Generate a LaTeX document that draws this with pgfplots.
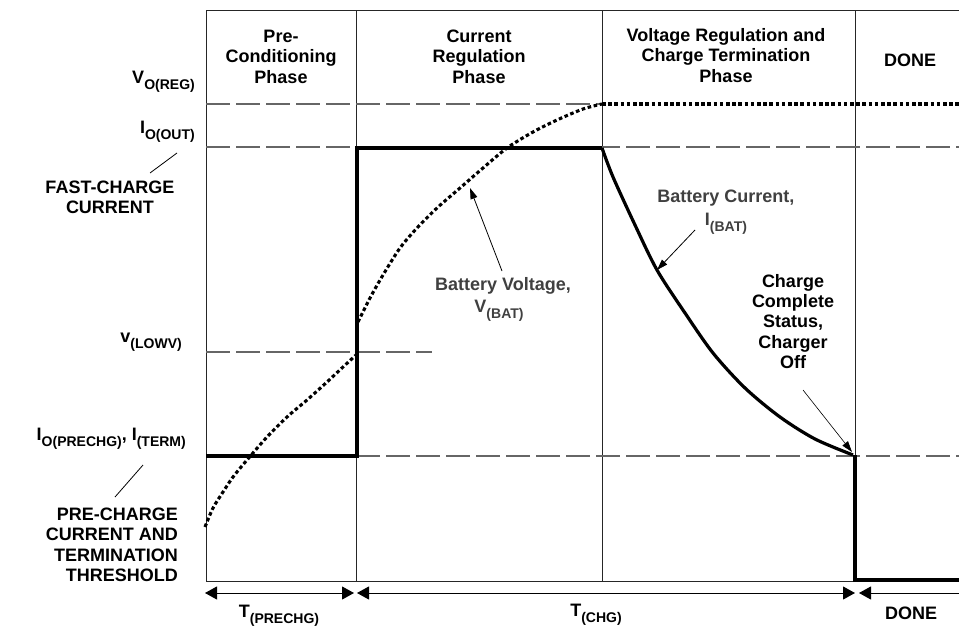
\documentclass[border=0pt]{standalone}
\usepackage{pgfplots}
\pgfplotsset{compat=1.18}
\usepackage{fontspec}
\setmainfont{Liberation Sans}
\usetikzlibrary{arrows.meta}

% subscript as set in the figure: smaller and lowered
\newcommand{\sub}[1]{\raisebox{-6pt}{\fontsize{14}{14}\selectfont #1}}

\begin{document}
\begin{tikzpicture}[
    lbl/.style={font=\fontsize{18}{20}\selectfont\bfseries, inner sep=0pt},
    dim/.style={-{Triangle[length=12pt,width=13pt]}, line width=1pt},
    ddim/.style={{Triangle[length=12pt,width=13pt]}-{Triangle[length=12pt,width=13pt]}, line width=1pt},
    vbat/.style={black, line width=3.1pt, dash pattern=on 3.6pt off 2.6pt},
  ]
  \begin{axis}[
      name=ax,
      width=959pt, height=629pt,
      scale only axis,
      hide axis,
      xmin=0, xmax=959,
      ymin=0, ymax=629,
      y dir=reverse,
      clip=false,
    ]
    % frame and phase borders
    \addplot[black!85, line width=0.9pt] coordinates {(206,581) (206,10) (959,10)};
    \addplot[black!85, line width=0.9pt] coordinates {(206,581) (959,581)};
    \addplot[black!85, line width=0.9pt] coordinates {(356,10) (356,581)};
    \addplot[black!85, line width=0.9pt] coordinates {(602,10) (602,581)};
    \addplot[black!85, line width=0.9pt] coordinates {(855,10) (855,581)};

    % reference levels
    \addplot[black!60, line width=1.1pt, dash pattern=on 24pt off 6pt] coordinates {(206,104) (600,104)};
    \addplot[black!60, line width=1.1pt, dash pattern=on 24pt off 6pt] coordinates {(206,147) (959,147)};
    \addplot[black!60, line width=1.1pt, dash pattern=on 24pt off 6pt] coordinates {(206,352) (432,352)};
    \addplot[black!60, line width=1.1pt, dash pattern=on 24pt off 6pt] coordinates {(206,456) (959,456)};

    % battery current I(BAT)
    \addplot[black, line width=3.2pt, smooth] coordinates {
      (602,148) (613,177) (635,225) (657,270) (685,313) (713,353)
      (745,388) (780,417) (815,439) (853,455)};
    \addplot[black, line width=3.2pt, line join=miter] coordinates {
      (206,456) (357,456) (357,148) (602,148)};
    \addplot[black, line width=3.2pt, line join=miter] coordinates {
      (855,455) (855,580) (959,580)};

    % battery voltage V(BAT)
    \addplot[vbat, smooth] coordinates {
      (205,527) (213,508) (223,492) (233,477) (247,460) (267,437)
      (287,417) (307,400) (327,382) (343,367) (356,355)};
    \addplot[vbat, smooth] coordinates {
      (358,322) (370,298) (383,275) (400,248) (417,228) (437,208)
      (460,188) (483,168) (507,148) (533,132) (557,120) (583,109) (602,104)};
    \addplot[vbat] coordinates {(602,104) (959,104)};

    % phase headers
    \node[lbl, anchor=base] at (axis cs:281,42) {Pre-};
    \node[lbl, anchor=base] at (axis cs:281,62.5) {Conditioning};
    \node[lbl, anchor=base] at (axis cs:281,83) {Phase};
    \node[lbl, anchor=base] at (axis cs:479,42) {Current};
    \node[lbl, anchor=base] at (axis cs:479,62.5) {Regulation};
    \node[lbl, anchor=base] at (axis cs:479,83) {Phase};
    \node[lbl, anchor=base] at (axis cs:726,41) {Voltage Regulation and};
    \node[lbl, anchor=base] at (axis cs:726,61.5) {Charge Termination};
    \node[lbl, anchor=base] at (axis cs:726,82) {Phase};
    \node[lbl, anchor=base] at (axis cs:910,66) {DONE};

    % level labels
    \node[lbl, anchor=base east] at (axis cs:195,83) {V\sub{O(REG)}};
    \node[lbl, anchor=base east] at (axis cs:195,133) {I\sub{O(OUT)}};
    \node[lbl, anchor=base] at (axis cs:110,193) {FAST-CHARGE};
    \node[lbl, anchor=base] at (axis cs:110,213) {CURRENT};
    \draw[line width=0.8pt] (axis cs:150,173) -- (axis cs:177,153);
    \node[lbl, anchor=base east] at (axis cs:182,342) {v\sub{(LOWV)}};
    \node[lbl, anchor=base east] at (axis cs:186,440) {I\sub{O(PRECHG)}, I\sub{(TERM)}};
    \draw[line width=0.8pt] (axis cs:115,497) -- (axis cs:143,465);
    \node[lbl, anchor=base east] at (axis cs:178,520) {PRE-CHARGE};
    \node[lbl, anchor=base east] at (axis cs:178,540.5) {CURRENT AND};
    \node[lbl, anchor=base east] at (axis cs:178,561) {TERMINATION};
    \node[lbl, anchor=base east] at (axis cs:178,581.5) {THRESHOLD};

    % curve annotations
    \node[lbl, anchor=base, text=black!75] at (axis cs:503,290) {Battery Voltage,};
    \node[lbl, anchor=base, text=black!75] at (axis cs:499,312) {V\sub{(BAT)}};
    \draw[-{Triangle[length=11pt,width=7pt]}, line width=0.8pt] (axis cs:502,271) -- (axis cs:470,188);
    \node[lbl, anchor=base, text=black!75] at (axis cs:726,202) {Battery Current,};
    \node[lbl, anchor=base, text=black!75] at (axis cs:726,225) {I\sub{(BAT)}};
    \draw[-{Triangle[length=11pt,width=7pt]}, line width=0.8pt] (axis cs:695,230) -- (axis cs:657,270);
    \node[lbl, anchor=base] at (axis cs:793,287) {Charge};
    \node[lbl, anchor=base] at (axis cs:793,307) {Complete};
    \node[lbl, anchor=base] at (axis cs:793,327.5) {Status,};
    \node[lbl, anchor=base] at (axis cs:793,348) {Charger};
    \node[lbl, anchor=base] at (axis cs:793,368) {Off};
    \draw[-{Triangle[length=11pt,width=7pt]}, line width=0.6pt] (axis cs:803,390) -- (axis cs:852,452);

    % time spans
    \draw[ddim] (axis cs:205,593) -- (axis cs:354,593);
    \draw[ddim] (axis cs:357,593) -- (axis cs:855,593);
    \draw[dim] (axis cs:959,593) -- (axis cs:859,593);
    \node[lbl, anchor=base] at (axis cs:279,617) {T\sub{(PRECHG)}};
    \node[lbl, anchor=base] at (axis cs:596,616) {T\sub{(CHG)}};
    \node[lbl, anchor=base] at (axis cs:911,619) {DONE};
  \end{axis}
  \pgfresetboundingbox
  \path[use as bounding box] (ax.south west) rectangle (ax.north east);
\end{tikzpicture}
\end{document}
